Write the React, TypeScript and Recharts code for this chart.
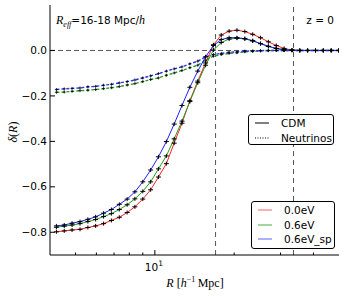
import { LineChart, Line, XAxis, YAxis, ReferenceLine } from "recharts";

// bin centres, h^-1 Mpc
const radius = [
  4.23, 4.53, 4.85, 5.2, 5.57, 5.96, 6.39, 6.84, 7.33, 7.85, 8.4, 9.0, 9.64,
  10.32, 11.06, 11.84, 12.68, 13.58, 14.55, 15.58, 16.69, 17.87, 19.14, 20.5,
  21.96, 23.52, 25.19, 26.97, 28.89, 30.94, 33.14, 35.49, 38.01, 40.71, 43.6,
  46.7, 49.9,
];

// CDM profiles
const cdm00 = [
  -0.798, -0.794, -0.79, -0.787, -0.779, -0.772, -0.762, -0.748, -0.734, -0.713,
  -0.688, -0.654, -0.613, -0.557, -0.498, -0.408, -0.32, -0.221, -0.135, -0.055,
  0.025, 0.068, 0.085, 0.089, 0.083, 0.071, 0.056, 0.038, 0.022, 0.009, 0.002,
  0, 0, 0, 0, 0, 0,
];
const cdm06 = [
  -0.778, -0.773, -0.768, -0.762, -0.753, -0.744, -0.731, -0.718, -0.7, -0.679,
  -0.653, -0.62, -0.578, -0.521, -0.464, -0.389, -0.311, -0.225, -0.142, -0.065,
  0.002, 0.035, 0.05, 0.054, 0.051, 0.042, 0.03, 0.018, 0.009, 0.003, 0.001, 0,
  0, 0, 0, 0, 0,
];
const cdm06sp = [
  -0.772, -0.768, -0.76, -0.753, -0.743, -0.732, -0.716, -0.7, -0.677, -0.654,
  -0.622, -0.578, -0.526, -0.468, -0.401, -0.324, -0.242, -0.162, -0.091, -0.028,
  0.022, 0.048, 0.056, 0.056, 0.052, 0.043, 0.03, 0.018, 0.009, 0.003, 0.001, 0,
  0, 0, 0, 0, 0,
];

// neutrino profiles
const nu06 = [
  -0.184, -0.183, -0.18, -0.177, -0.175, -0.172, -0.168, -0.164, -0.159, -0.152,
  -0.146, -0.137, -0.128, -0.121, -0.109, -0.099, -0.088, -0.076, -0.065,
  -0.043, -0.025, -0.018, -0.013, -0.01, -0.006, -0.004, -0.002, -0.001, 0, 0,
  0, 0, 0, 0, 0, 0, 0,
];
const nu06sp = [
  -0.172, -0.169, -0.167, -0.165, -0.16, -0.158, -0.153, -0.149, -0.143, -0.137,
  -0.13, -0.121, -0.112, -0.102, -0.091, -0.081, -0.072, -0.059, -0.047, -0.028,
  -0.018, -0.013, -0.008, -0.006, -0.003, -0.002, -0.001, 0, 0, 0, 0, 0, 0, 0,
  0, 0, 0,
];

const xTicks = [5, 6, 7, 8, 9, 10, 20, 30, 40];
const yTicks = [-0.8, -0.6, -0.4, -0.2, 0];
const voidLines = [17, 33.6];

const rows = radius.map((r, i) => ({
  r,
  cdm00: cdm00[i],
  cdm06: cdm06[i],
  cdm06sp: cdm06sp[i],
  nu06: nu06[i],
  nu06sp: nu06sp[i],
}));

const SANS = "'DejaVu Sans', sans-serif";
const SERIF = "'Liberation Serif', 'DejaVu Serif', serif";

const fmt = (v: number) => (v < 0 ? "\u2212" + Math.abs(v).toFixed(1) : v.toFixed(1));

function BottomTick(props: any) {
  const { x, y, payload } = props;
  const major = payload.value === 10;
  return (
    <g>
      <line x1={x} x2={x} y1={y} y2={y - (major ? 5 : 2.5)} stroke="#000" />
      {major && (
        <text x={x - 1} y={y + 16} textAnchor="middle" fontSize={10.5} fontFamily={SANS} fill="#000">
          10<tspan dy={-5} fontSize={7.5}>1</tspan>
        </text>
      )}
    </g>
  );
}

function TopTick(props: any) {
  const { x, y, payload } = props;
  const major = payload.value === 10;
  return <line x1={x} x2={x} y1={y} y2={y + (major ? 5 : 2.5)} stroke="#000" />;
}

function LeftTick(props: any) {
  const { x, y, payload } = props;
  return (
    <g>
      <line x1={x} x2={x + 5} y1={y} y2={y} stroke="#000" />
      <text x={x - 3} y={y + 3.6} textAnchor="end" fontSize={10.5} fontFamily={SANS} fill="#000">
        {fmt(payload.value)}
      </text>
    </g>
  );
}

function RightTick(props: any) {
  const { x, y } = props;
  return <line x1={x} x2={x - 5} y1={y} y2={y} stroke="#000" />;
}

// error bar caps drawn as small black crosses
const cross = (props: any) => {
  const { cx, cy, index } = props;
  return (
    <path
      key={index}
      d={`M${cx - 2.5},${cy}H${cx + 2.5}M${cx},${cy - 2}V${cy + 2}`}
      stroke="#000"
      strokeWidth={1}
      fill="none"
    />
  );
};

const smallCross = (props: any) => {
  const { cx, cy, index } = props;
  return (
    <path
      key={index}
      d={`M${cx - 1.5},${cy}H${cx + 1.5}M${cx},${cy - 1.5}V${cy + 1.5}`}
      stroke="#000"
      strokeWidth={0.8}
      fill="none"
    />
  );
};

type Item = { label: string; color: string; dash?: string };

function LegendBox(props: { left: number; top: number; width: number; height: number; items: Item[] }) {
  const { left, top, width, height, items } = props;
  return (
    <div
      style={{
        position: "absolute",
        left,
        top,
        width,
        height,
        border: "1px solid #000",
        borderRadius: 3,
        background: "#fff",
        boxSizing: "border-box",
        fontFamily: SANS,
        fontSize: 10.5,
      }}
    >
      {items.map((it, i) => (
        <div key={it.label} style={{ position: "absolute", left: 0, top: 1 + i * 14.7, height: 14, width: "100%" }}>
          <svg width={20} height={14} style={{ position: "absolute", left: 6, top: 0 }}>
            <line x1={0} x2={14} y1={7} y2={7} stroke={it.color} strokeWidth={1} strokeDasharray={it.dash} />
          </svg>
          <span style={{ position: "absolute", left: 32, top: 0, lineHeight: "14px", whiteSpace: "nowrap" }}>{it.label}</span>
        </div>
      ))}
    </div>
  );
}

export default function App() {
  return (
    <div style={{ position: "absolute", left: 0, top: 0, width: 346, height: 296, background: "#fff" }}>
      <LineChart width={346} height={296} data={rows} margin={{ top: 5, right: 7, bottom: 0, left: 0 }}>
        <XAxis
          dataKey="r"
          type="number"
          scale="log"
          domain={[4, 50]}
          ticks={xTicks}
          allowDataOverflow
          height={41}
          tickSize={0}
          tickMargin={0}
          tickLine={false}
          tick={<BottomTick />}
          axisLine={{ stroke: "#000" }}
          interval={0}
        />
        <XAxis
          xAxisId="top"
          orientation="top"
          dataKey="r"
          type="number"
          scale="log"
          domain={[4, 50]}
          ticks={xTicks}
          allowDataOverflow
          height={0}
          tickSize={0}
          tickMargin={0}
          tickLine={false}
          tick={<TopTick />}
          axisLine={{ stroke: "#000" }}
          interval={0}
        />
        <YAxis
          type="number"
          domain={[-0.9, 0.2]}
          ticks={yTicks}
          allowDataOverflow
          width={50}
          tickSize={0}
          tickMargin={0}
          tickLine={false}
          tick={<LeftTick />}
          axisLine={{ stroke: "#000" }}
          interval={0}
        />
        <YAxis
          yAxisId="right"
          orientation="right"
          type="number"
          domain={[-0.9, 0.2]}
          ticks={yTicks}
          allowDataOverflow
          width={0}
          tickSize={0}
          tickMargin={0}
          tickLine={false}
          tick={<RightTick />}
          axisLine={{ stroke: "#000" }}
          interval={0}
        />
        <ReferenceLine y={0} stroke="#555" strokeDasharray="5 3" />
        {voidLines.map((v) => (
          <ReferenceLine key={v} x={v} stroke="#555" strokeDasharray="5 4" />
        ))}
        <Line dataKey="nu06" stroke="#20a020" strokeWidth={1.4} strokeDasharray="3 2" dot={smallCross} activeDot={false} isAnimationActive={false} />
        <Line dataKey="nu06sp" stroke="#3030ff" strokeWidth={1.4} strokeDasharray="3 2" dot={smallCross} activeDot={false} isAnimationActive={false} />
        <Line dataKey="cdm00" stroke="#ff2020" strokeWidth={1} dot={cross} activeDot={false} isAnimationActive={false} />
        <Line dataKey="cdm06" stroke="#20a020" strokeWidth={1} dot={cross} activeDot={false} isAnimationActive={false} />
        <Line dataKey="cdm06sp" stroke="#2020ff" strokeWidth={1} dot={cross} activeDot={false} isAnimationActive={false} />
      </LineChart>

      <div style={{ position: "absolute", left: 56, top: 13, fontFamily: SANS, fontSize: 10.5, lineHeight: "14px", whiteSpace: "nowrap" }}>
        <span style={{ fontFamily: SERIF, fontStyle: "italic", fontSize: 12 }}>R</span>
        <sub style={{ fontFamily: SERIF, fontStyle: "italic", fontSize: 8 }}>eff</sub>
        =16-18 Mpc/
        <span style={{ fontFamily: SERIF, fontStyle: "italic", fontSize: 12 }}>h</span>
      </div>
      <div style={{ position: "absolute", right: 12, top: 13, fontFamily: SANS, fontSize: 10.5, lineHeight: "14px" }}>
        z = 0
      </div>

      <div
        style={{
          position: "absolute",
          left: 13,
          top: 132,
          transform: "translate(-50%, -50%) rotate(-90deg)",
          fontFamily: SERIF,
          fontSize: 12,
          whiteSpace: "nowrap",
        }}
      >
        <i>δ</i>(<i>R</i>)
      </div>
      <div
        style={{
          position: "absolute",
          left: 195,
          top: 283,
          transform: "translate(-50%, -50%)",
          fontFamily: SERIF,
          fontSize: 12,
          whiteSpace: "nowrap",
        }}
      >
        <i>R</i> [<i>h</i>
        <sup style={{ fontSize: 8 }}>−1</sup>
        {"\u2009"}Mpc]
      </div>

      <LegendBox
        left={248}
        top={114}
        width={86}
        height={31}
        items={[
          { label: "CDM", color: "#000" },
          { label: "Neutrinos", color: "#000", dash: "1 1.5" },
        ]}
      />
      <LegendBox
        left={251}
        top={201}
        width={84}
        height={48}
        items={[
          { label: "0.0eV", color: "#ff6060" },
          { label: "0.6eV", color: "#40b040" },
          { label: "0.6eV_sp", color: "#6060ff" },
        ]}
      />
    </div>
  );
}
